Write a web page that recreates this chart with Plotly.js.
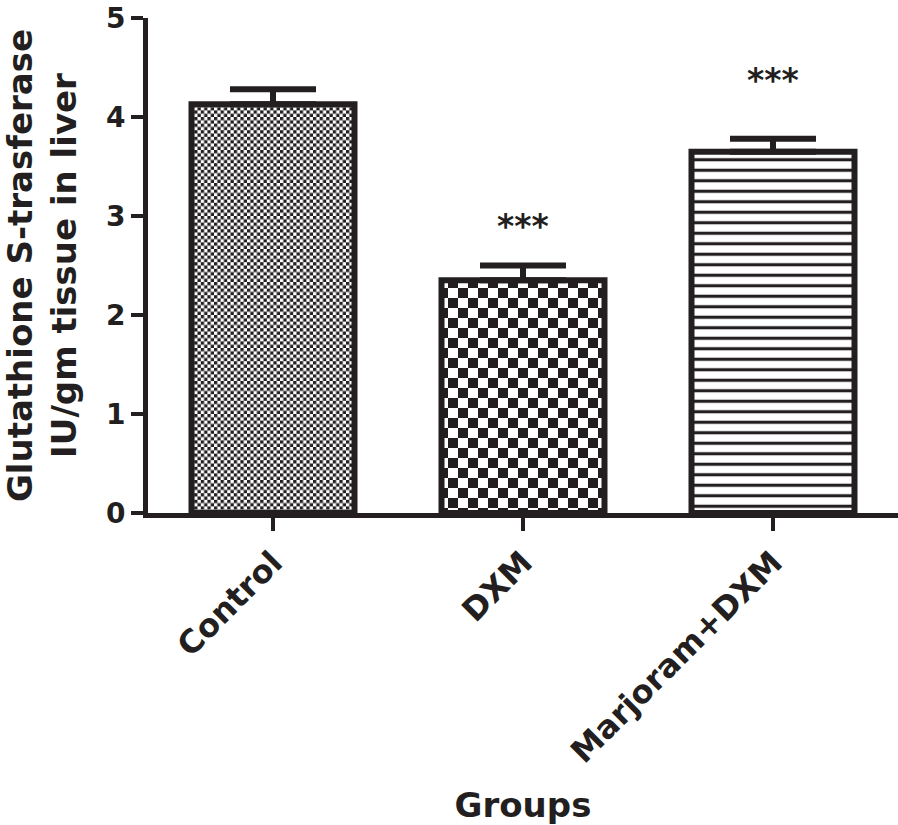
<!DOCTYPE html>
<html>
<head>
<meta charset="utf-8">
<script src="https://cdn.plot.ly/plotly-3.0.1.min.js"></script>
<style>
  body { margin: 0; background: #fff; }
  #chart { width: 898px; height: 825px; }
</style>
</head>
<body>
<div id="chart"></div>
<script>
var groups = ["Control", "DXM", "Marjoram+DXM"];
var meanGST = [4.13, 2.35, 3.65];
var semGST = [0.15, 0.15, 0.13];
var sigLabels = ["", "***", "***"];

var ink = "#231f20";
var font = "DejaVu Sans, Arial, sans-serif";

var traceGST = {
  type: "bar",
  x: groups,
  y: meanGST,
  width: 0.652,
  marker: {
    color: "white",
    line: { color: ink, width: 6 },
    pattern: {
      shape: [".", ".", "-"],
      size: [6.6, 20, 10.5],
      solidity: [0.5, 0.5, 0.3],
      fgcolor: ink,
      bgcolor: "white",
      fillmode: "replace",
    },
  },
  error_y: {
    type: "data",
    symmetric: false,
    array: semGST,
    arrayminus: semGST.map(function () { return 0; }),
    color: ink,
    thickness: 6,
    width: 43,
  },
  hoverinfo: "none",
};

// stars sit a bit higher over the last bar in the original
var starShift = [0, 18, 37];
var annotations = [];
groups.forEach(function (g, i) {
  if (!sigLabels[i]) return;
  annotations.push({
    x: g,
    y: meanGST[i] + semGST[i],
    xref: "x",
    yref: "y",
    text: sigLabels[i],
    showarrow: false,
    yanchor: "bottom",
    yshift: starShift[i],
    font: { family: font, size: 33, color: ink, weight: "bold" },
  });
});

var layout = {
  width: 898,
  height: 825,
  margin: { l: 148, r: 0, t: 18, b: 312 },
  paper_bgcolor: "white",
  plot_bgcolor: "white",
  showlegend: false,
  font: { family: font, color: ink },
  xaxis: {
    range: [-0.5, 2.5],
    showline: true,
    linecolor: ink,
    linewidth: 5,
    ticks: "outside",
    ticklen: 13,
    tickwidth: 4,
    tickcolor: ink,
    tickangle: -45,
    tickfont: { family: font, size: 32, color: ink, weight: "bold" },
    showgrid: false,
    zeroline: false,
    title: {
      text: "Groups",
      font: { family: font, size: 34, color: ink, weight: "bold" },
      standoff: 30,
    },
  },
  yaxis: {
    range: [0, 5],
    tickvals: [0, 1, 2, 3, 4, 5],
    showline: true,
    linecolor: ink,
    linewidth: 5,
    ticks: "outside",
    ticklen: 12,
    tickwidth: 4,
    tickcolor: ink,
    ticklabeloverflow: "allow",
    tickfont: { family: font, size: 28, color: ink, weight: "bold" },
    showgrid: false,
    zeroline: false,
    title: {
      text: "Glutathione S-trasferase<br>IU/gm tissue in liver",
      font: { family: font, size: 34, color: ink, weight: "bold" },
      standoff: 22,
    },
  },
  annotations: annotations,
};

var config = { staticPlot: true, displayModeBar: false };

// Plotly has no checkerboard fill, so swap the dot in each tile for two squares
function makeChecker(gd) {
  var NS = "http://www.w3.org/2000/svg";
  gd.querySelectorAll(".barlayer .point path").forEach(function (p, i) {
    if (traceGST.marker.pattern.shape[i] !== ".") return;
    var m = (p.getAttribute("style") || "").match(/url\(["']?#([^"')]+)/);
    if (!m) return;
    var pat = document.getElementById(m[1]);
    if (!pat) return;
    var s = parseFloat(pat.getAttribute("width"));
    var h = s / 2;
    var dot = pat.querySelector("circle, path");
    if (!dot) return;
    var sq = document.createElementNS(NS, "path");
    sq.setAttribute(
      "d",
      "M0,0H" + h + "V" + h + "H0Z" + "M" + h + "," + h + "H" + s + "V" + s + "H" + h + "Z"
    );
    sq.setAttribute("fill", ink);
    dot.parentNode.replaceChild(sq, dot);
  });
}

Plotly.newPlot("chart", [traceGST], layout, config).then(makeChecker);
</script>
</body>
</html>
